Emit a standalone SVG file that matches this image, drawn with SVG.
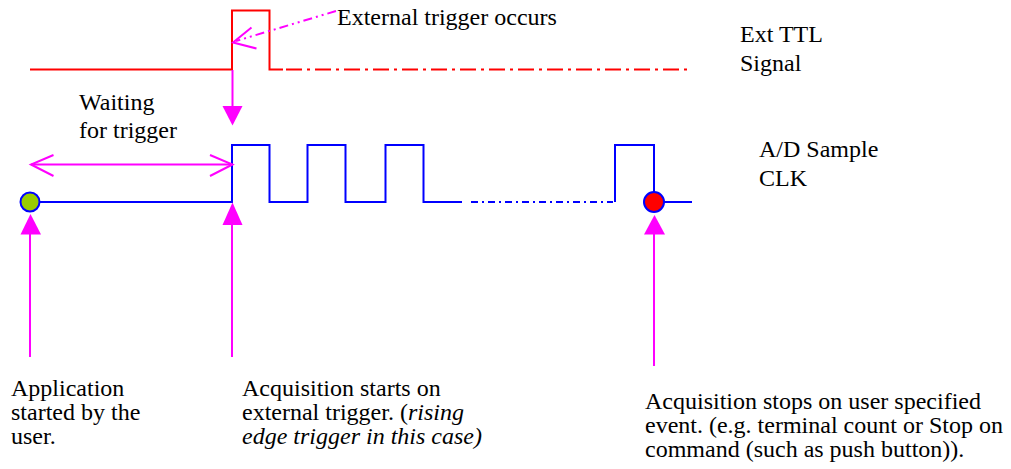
<svg xmlns="http://www.w3.org/2000/svg" width="1011" height="469" viewBox="0 0 1011 469">
<style>
text{font-family:'Liberation Serif','Times New Roman',serif;font-size:24px;fill:#000}
.it{font-style:italic}
.red{fill:none;stroke:#FF0000;stroke-width:2}
.blue{fill:none;stroke:#0000FF;stroke-width:2}
.mag{fill:none;stroke:#FF00FF;stroke-width:2}
.magf{fill:#FF00FF;stroke:none}
</style>
<rect width="1011" height="469" fill="#fff"/>
<g id="ext-ttl-signal">
<polyline class="red" points="30,69.5 232,69.5 232,10.5 269.5,10.5 269.5,69.5 283,69.5"/>
<line class="red" x1="286" y1="69.5" x2="692" y2="69.5" stroke-dasharray="16 5 3 5"/>
<text x="740" y="42">Ext TTL</text>
<text x="740" y="71">Signal</text>
</g>
<g id="ad-sample-clk">
<polyline class="blue" points="40,202 232,202 232,145 269.5,145 269.5,202 307.5,202 307.5,145 345.5,145 345.5,202 385.5,202 385.5,145 423.5,145 423.5,202 462,202"/>
<line class="blue" x1="471" y1="202" x2="613" y2="202" stroke-dasharray="7 4 2 4"/>
<polyline class="blue" points="615,202 615,145 654,145 654,192"/>
<line class="blue" x1="664" y1="202" x2="692" y2="202"/>
<text x="759" y="157">A/D Sample</text>
<text x="759" y="186">CLK</text>
</g>
<g id="start-dot">
<circle cx="30" cy="202" r="9.5" fill="#99CC00" stroke="#0000FF" stroke-width="2"/>
</g>
<g id="stop-dot">
<circle cx="654" cy="202" r="10" fill="#FF0000" stroke="#0000FF" stroke-width="2"/>
</g>
<g id="connectors">
<line class="mag" x1="336" y1="11" x2="236" y2="41" stroke-dasharray="9 4 2 4 2 4"/>
<polyline class="mag" points="251.5,27.5 233,42.5 256.5,48.5"/>
<line class="mag" x1="232.5" y1="70" x2="232.5" y2="108"/>
<polygon class="magf" points="222.5,106 242.5,106 232.5,125.5"/>
<line class="mag" x1="31" y1="164.5" x2="232" y2="164.5"/>
<polyline class="mag" points="53.5,155 31,164.5 53.5,176"/>
<polyline class="mag" points="210,155 232.5,164.5 210,176"/>
<line class="mag" x1="30" y1="357" x2="30" y2="232"/>
<polygon class="magf" points="20.5,234.5 41,234.5 30.5,214"/>
<line class="mag" x1="232" y1="357" x2="232" y2="223"/>
<polygon class="magf" points="222.5,225 242.5,225 232.5,202.5"/>
<line class="mag" x1="654" y1="366" x2="654" y2="232"/>
<polygon class="magf" points="644,234.5 665,234.5 654.5,215"/>
</g>
<g id="label-external-trigger">
<text x="337" y="25">External trigger occurs</text>
</g>
<g id="label-waiting">
<text x="79" y="110">Waiting</text>
<text x="79" y="138">for trigger</text>
</g>
<g id="label-application">
<text x="11" y="396">Application</text>
<text x="11" y="420">started by the</text>
<text x="11" y="444">user.</text>
</g>
<g id="label-acq-start">
<text x="242" y="396">Acquisition starts on</text>
<text x="242" y="420">external trigger. (<tspan class="it">rising</tspan></text>
<text x="242" y="444" class="it">edge trigger in this case)</text>
</g>
<g id="label-acq-stop">
<text x="645" y="409">Acquisition stops on user specified</text>
<text x="645" y="433">event. (e.g. terminal count or Stop on</text>
<text x="645" y="457">command (such as push button)).</text>
</g>
</svg>
